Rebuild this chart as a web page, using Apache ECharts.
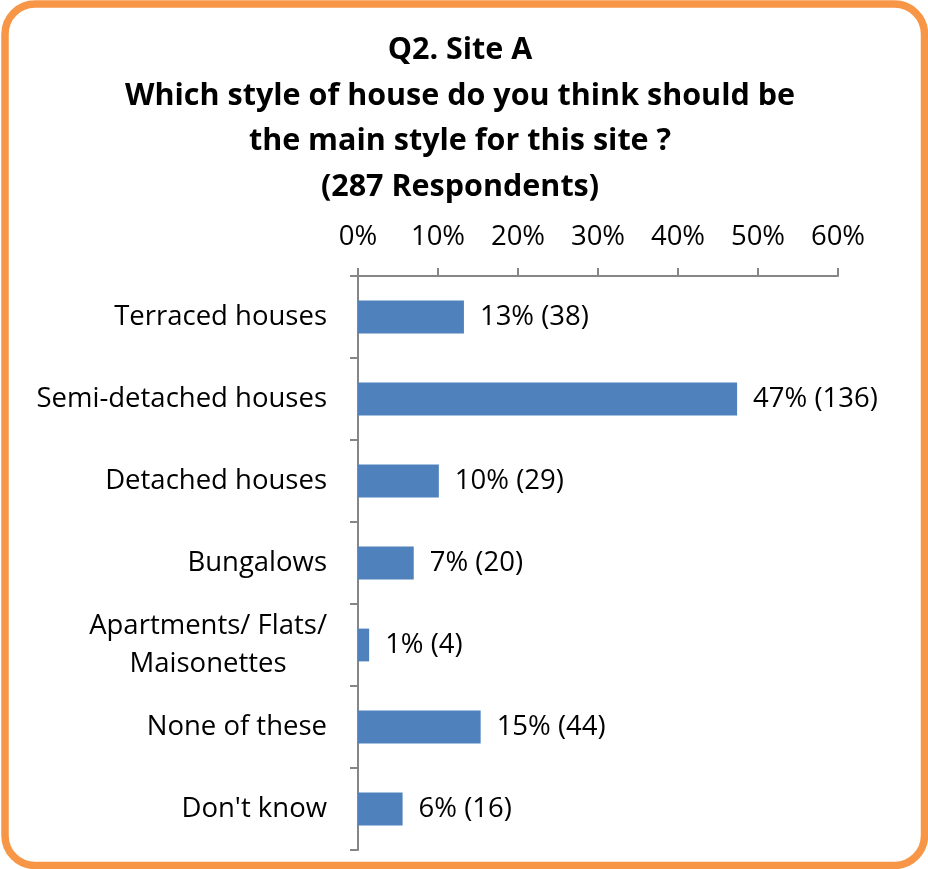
<!DOCTYPE html>
<html>
<head>
<meta charset="utf-8">
<script src="https://cdn.jsdelivr.net/npm/echarts@6/dist/echarts.min.js"></script>
<style>
  html, body { margin: 0; padding: 0; background: #fff; }
  #chart { width: 928px; height: 869px; }
</style>
</head>
<body>
<div id="chart"></div>
<script>
// Survey responses per house style
const categories = [
  'Terraced houses',
  'Semi-detached houses',
  'Detached houses',
  'Bungalows',
  'Apartments/ Flats/\nMaisonettes',
  'None of these',
  "Don't know"
];
const counts = [38, 136, 29, 20, 4, 44, 16];
const totalRespondents = 287;
const tickValues = [0, 10, 20, 30, 40, 50, 60];

const shares = counts.map(c => c / totalRespondents * 100);

const FONT = 'Open Sans';
const LABEL_SIZE = 27.5;
const chart = echarts.init(document.getElementById('chart'), null, { renderer: 'canvas' });

chart.setOption({
  backgroundColor: '#ffffff',
  animation: false,
  title: {
    text: 'Q2. Site A\nWhich style of house do you think should be\nthe main style for this site ?\n(287 Respondents)',
    left: 455,
    top: 23,
    textAlign: 'center',
    textStyle: {
      fontFamily: FONT,
      fontWeight: 'bold',
      fontSize: 30.5,
      lineHeight: 45.5,
      color: '#000'
    }
  },
  graphic: [{
    type: 'rect',
    shape: { x: 5, y: 4, width: 919.5, height: 861.5, r: 30 },
    style: { fill: 'none', stroke: '#F79646', lineWidth: 7.5 },
    silent: true
  }],
  grid: { left: 358, right: 90, top: 276, bottom: 19, containLabel: false },
  xAxis: {
    type: 'value',
    position: 'top',
    min: tickValues[0],
    max: tickValues[tickValues.length - 1],
    interval: 10,
    axisLine: { show: true, lineStyle: { color: '#868686', width: 2 } },
    axisTick: { show: true, length: 8, lineStyle: { color: '#868686', width: 2 } },
    splitLine: { show: false },
    axisLabel: {
      formatter: v => v + '%',
      fontFamily: FONT,
      fontSize: LABEL_SIZE,
      color: '#000',
      margin: 25
    }
  },
  yAxis: {
    type: 'category',
    data: categories,
    inverse: true,
    axisLine: { show: true, lineStyle: { color: '#868686', width: 2 } },
    axisTick: { show: true, length: 8, alignWithLabel: false, lineStyle: { color: '#868686', width: 2 } },
    axisLabel: {
      fontFamily: FONT,
      fontSize: LABEL_SIZE,
      color: '#000',
      margin: 31,
      lineHeight: 38,
      formatter: v => v.indexOf('\n') >= 0
        ? v.split('\n').map(s => '{c|' + s + '}').join('\n')
        : v,
      rich: {
        c: { fontFamily: FONT, fontSize: LABEL_SIZE, color: '#000', align: 'center', lineHeight: 38 }
      }
    }
  },
  series: [{
    type: 'bar',
    data: shares,
    barCategoryGap: '60%',
    itemStyle: { color: '#4F81BD' },
    label: {
      show: true,
      position: 'right',
      distance: 16,
      fontFamily: FONT,
      fontSize: LABEL_SIZE,
      color: '#000',
      formatter: p => Math.round(p.value) + '% (' + counts[p.dataIndex] + ')'
    }
  }]
});
</script>
</body>
</html>
